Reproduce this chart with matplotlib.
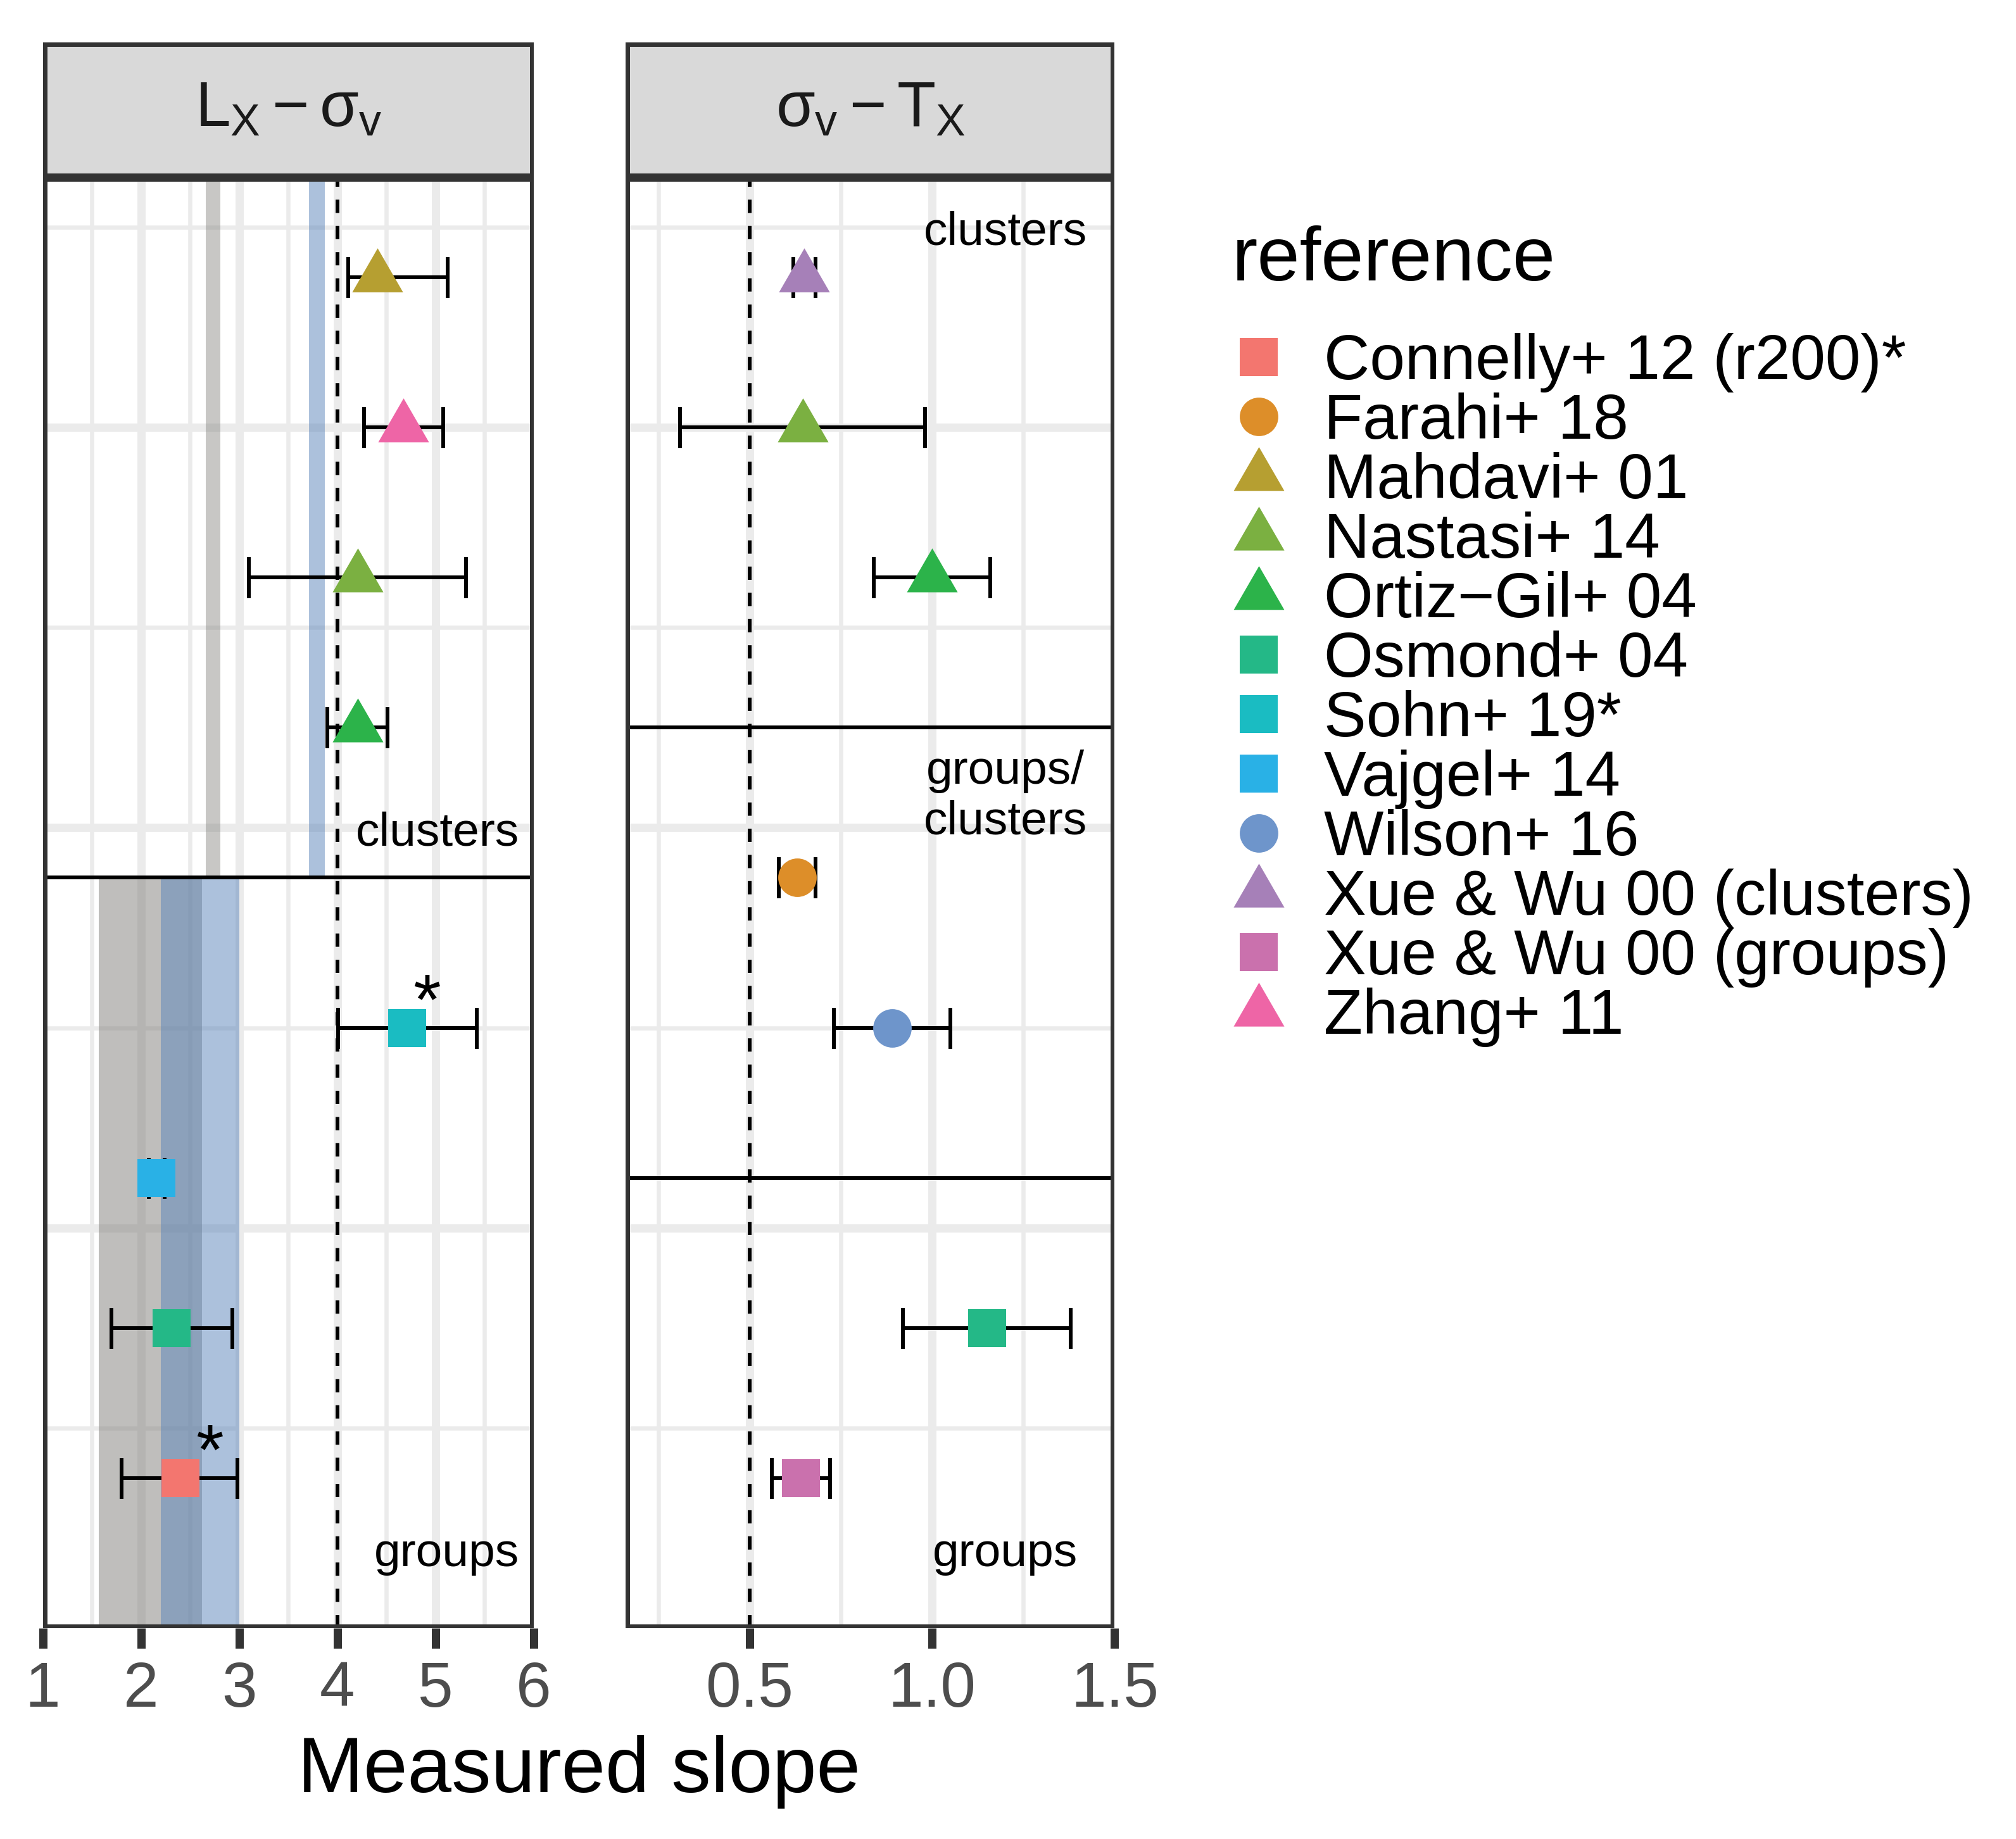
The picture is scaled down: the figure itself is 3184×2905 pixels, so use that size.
import matplotlib
matplotlib.use('Agg')
import matplotlib.pyplot as plt
from matplotlib.path import Path
from matplotlib.markers import MarkerStyle
from matplotlib.lines import Line2D
from matplotlib.patches import Rectangle

plt.rcParams['font.family'] = ['Liberation Sans', 'DejaVu Sans']
plt.rcParams['mathtext.fontset'] = 'custom'
plt.rcParams['mathtext.rm'] = 'Liberation Sans'
plt.rcParams['mathtext.it'] = 'Liberation Sans'
plt.rcParams['mathtext.bf'] = 'Liberation Sans:bold'

# ---------------- data ----------------
references = ["Connelly+ 12 (r200)*", "Farahi+ 18", "Mahdavi+ 01", "Nastasi+ 14",
              "Ortiz\u2212Gil+ 04", "Osmond+ 04", "Sohn+ 19*", "Vajgel+ 14",
              "Wilson+ 16", "Xue & Wu 00 (clusters)", "Xue & Wu 00 (groups)", "Zhang+ 11"]
ref_colors = ["#F3766F", "#DD8E29", "#B69F31", "#7BB041", "#2CB34A", "#24B887",
              "#1ABCC2", "#29B1E6", "#6E95CB", "#A680B8", "#CA71AD", "#EE65A6"]
ref_shapes = ["square", "circle", "triangle", "triangle", "triangle", "square",
              "square", "square", "circle", "triangle", "square", "triangle"]

# L_X - sigma_v panel (row = slot from the bottom)
lx_ref   = ["Mahdavi+ 01", "Zhang+ 11", "Nastasi+ 14", "Ortiz\u2212Gil+ 04",
            "Sohn+ 19*", "Vajgel+ 14", "Osmond+ 04", "Connelly+ 12 (r200)*"]
lx_value = [4.41, 4.67, 4.21, 4.21, 4.71, 2.16, 2.31, 2.40]
lx_lower = [4.11, 4.27, 3.10, 3.90, 4.01, 2.08, 1.70, 1.80]
lx_upper = [5.12, 5.08, 5.31, 4.51, 5.42, 2.24, 2.93, 2.98]
lx_row   = [9, 8, 7, 6, 4, 3, 2, 1]
lx_separator_rows = [5]
lx_selfsimilar = 4.0

# shaded prediction bands in the L_X - sigma_v panel
band_lo     = [2.66, 3.71, 1.57, 2.20]
band_hi     = [2.81, 3.87, 2.62, 3.00]
band_kind   = ["gray", "blue", "gray", "blue"]
band_region = ["clusters", "clusters", "groups", "groups"]

# sigma_v - T_X panel
st_ref   = ["Xue & Wu 00 (clusters)", "Nastasi+ 14", "Ortiz\u2212Gil+ 04",
            "Farahi+ 18", "Wilson+ 16", "Osmond+ 04", "Xue & Wu 00 (groups)"]
st_value = [0.65, 0.645, 1.00, 0.63, 0.89, 1.15, 0.64]
st_lower = [0.62, 0.31, 0.84, 0.58, 0.73, 0.92, 0.56]
st_upper = [0.68, 0.98, 1.16, 0.68, 1.05, 1.38, 0.72]
st_row   = [9, 8, 7, 5, 4, 2, 1]
st_separator_rows = [6, 3]
st_selfsimilar = 0.5

lx_ticks = [1, 2, 3, 4, 5, 6]
lx_tick_labels = ["1", "2", "3", "4", "5", "6"]
st_ticks = [0.5, 1.0, 1.5]
st_tick_labels = ["0.5", "1.0", "1.5"]

# ---------------- layout ----------------
W, H, DPI = 3184, 2905, 300
ROW = 0.75          # vertical spacing of slots
YTOP = 7.25


def fx(px):
    return px / W


def fy(py):
    return 1 - py / H


fig = plt.figure(figsize=(W / DPI, H / DPI), dpi=DPI)

GRID = "#EBEBEB"
BORDER = "#333333"
LW_MAJ = 3.12
LW_MIN = 1.56
LW_LINE = 1.44

tri = MarkerStyle(Path([(0, 1), (-0.866, -0.5), (0.866, -0.5), (0, 1)],
                       [Path.MOVETO, Path.LINETO, Path.LINETO, Path.CLOSEPOLY]))
marker_of = {"square": ("s", 14.6), "circle": ("o", 14.6), "triangle": (tri, 22.2)}
color_of = dict(zip(references, ref_colors))
shape_of = dict(zip(references, ref_shapes))

panel_top, panel_bot, strip_top = 280, 2572, 67


def make_panel(x0, x1, xlim, ticks, ticklabels, minor, title):
    ax = fig.add_axes([fx(x0), fy(panel_bot), (x1 - x0) / W, (panel_bot - panel_top) / H])
    ax.set_xlim(*xlim)
    ax.set_ylim(0, YTOP)
    ax.set_xticks(ticks)
    ax.set_xticklabels(ticklabels)
    ax.set_xticks(minor, minor=True)
    ax.set_yticks([0, 2, 4, 6])
    ax.set_yticks([1, 3, 5, 7], minor=True)
    ax.set_axisbelow(True)
    ax.grid(which="major", color=GRID, lw=LW_MAJ)
    ax.grid(which="minor", color=GRID, lw=LW_MIN)
    ax.tick_params(axis="x", which="major", length=7.7, width=LW_MAJ, color=BORDER,
                   labelsize=24, labelcolor="#4D4D4D", pad=4.5)
    ax.tick_params(axis="x", which="minor", length=0)
    ax.tick_params(axis="y", which="both", length=0, labelleft=False)
    for sp in ax.spines.values():
        sp.set_visible(False)
    ax.add_patch(Rectangle((0, 0), 1, 1, transform=ax.transAxes, fill=False,
                           ec=BORDER, lw=LW_MAJ, zorder=10))
    # strip
    sx = fig.add_axes([fx(x0), fy(panel_top), (x1 - x0) / W, (panel_top - strip_top) / H])
    sx.set_facecolor("#D9D9D9")
    sx.set_xticks([])
    sx.set_yticks([])
    for sp in sx.spines.values():
        sp.set_visible(False)
    sx.add_patch(Rectangle((0, 0), 1, 1, transform=sx.transAxes, fill=False,
                           ec=BORDER, lw=LW_MAJ, zorder=10))
    sx.text(0.5, 0.5, title, transform=sx.transAxes, ha="center", va="center",
            fontsize=24, color="#1A1A1A")
    return ax


def draw_points(ax, refs, vals, los, his, rows):
    for r, v, lo, hi, row in zip(refs, vals, los, his, rows):
        y = row * ROW
        ax.errorbar([v], [y], xerr=[[v - lo], [hi - v]], fmt="none", ecolor="black",
                    elinewidth=LW_LINE, capsize=7.8, capthick=LW_LINE, zorder=3)
        mk, ms = marker_of[shape_of[r]]
        ax.plot([v], [y], ls="none", marker=mk, ms=ms, color=color_of[r], mew=0, zorder=4)


# ---- left panel: L_X - sigma_v ----
axL = make_panel(67.5, 843, (1, 6), lx_ticks, lx_tick_labels,
                 [1.5, 2.5, 3.5, 4.5, 5.5], r"$L_X - \sigma_v$")
sep_L = lx_separator_rows[0] * ROW
region_span = {"clusters": (sep_L, YTOP), "groups": (0, sep_L)}
band_style = {"gray": ("#807E7A", 0.5), "blue": ("#5B85BB", 0.5)}
for lo, hi, kind, reg in zip(band_lo, band_hi, band_kind, band_region):
    c, a = band_style[kind]
    if kind == "gray" and reg == "clusters":
        a = 0.43
    y0, y1 = region_span[reg]
    axL.fill_betweenx([y0, y1], lo, hi, color=c, alpha=a, lw=0, zorder=1)
axL.axvline(lx_selfsimilar, color="black", lw=LW_LINE, ls=(0, (3.5, 3.4)), zorder=2)
for r in lx_separator_rows:
    axL.axhline(r * ROW, color="black", lw=LW_LINE, zorder=2)
draw_points(axL, lx_ref, lx_value, lx_lower, lx_upper, lx_row)
axL.text(5.85, 3.863, "clusters", ha="right", va="bottom", fontsize=18, zorder=6)
axL.text(5.85, 0.263, "groups", ha="right", va="bottom", fontsize=18, zorder=6)
axL.text(4.91, 4 * ROW + 0.02, "*", ha="center", va="baseline", fontsize=27, zorder=6)
axL.text(2.70, 1 * ROW + 0.02, "*", ha="center", va="baseline", fontsize=27, zorder=6)

# ---- right panel: sigma_v - T_X ----
axR = make_panel(988, 1760.5, (0.16, 1.5), st_ticks, st_tick_labels,
                 [0.25, 0.75, 1.25], r"$\sigma_v - T_X$")
axR.axvline(st_selfsimilar, color="black", lw=LW_LINE, ls=(0, (3.5, 3.4)), zorder=2)
for r in st_separator_rows:
    axR.axhline(r * ROW, color="black", lw=LW_LINE, zorder=2)
draw_points(axR, st_ref, st_value, st_lower, st_upper, st_row)
axR.text(1.2, 6.865, "clusters", ha="center", va="bottom", fontsize=18, zorder=6)
axR.text(1.2, 3.92, "groups/\nclusters", ha="center", va="bottom", fontsize=18,
         linespacing=1.2, zorder=6)
axR.text(1.2, 0.263, "groups", ha="center", va="bottom", fontsize=18, zorder=6)

# axis title
fig.text(fx((67.5 + 1760.5) / 2), fy(2831), "Measured slope", ha="center",
         va="baseline", fontsize=30)

# legend
handles = []
for r in references:
    mk, ms = marker_of[shape_of[r]]
    handles.append(Line2D([], [], ls="none", marker=mk, ms=ms, color=color_of[r], mew=0))
fig.text(fx(1946), fy(443), "reference", ha="left", va="baseline", fontsize=29)
fig.legend(handles, references, loc="upper left", bbox_to_anchor=(fx(1954), fy(526)),
           frameon=False, fontsize=24, borderpad=0, borderaxespad=0,
           handlelength=0.68, handletextpad=0.69, labelspacing=0, handleheight=0.7)

fig.savefig("out.png", dpi=DPI)
